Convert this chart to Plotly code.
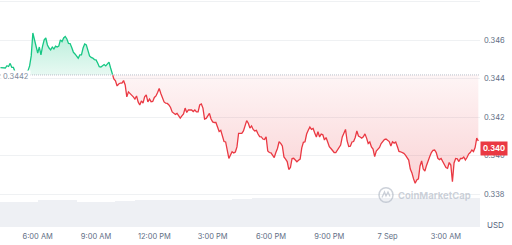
import numpy as np
import pandas as pd
import plotly.graph_objects as go

# ---------------- data ----------------
start_time = "2024-09-06 04:05"          # first 5-minute sample
window_start = "2024-09-06 05:35"        # start of the 24h window (fill starts here)
base_price = 0.3442                      # reference price (24h ago)
last_price_label = "0.340"

price = [
    0.34458, 0.34456, 0.34455, 0.34456, 0.34468, 0.34464, 0.34480, 0.34459, 0.34459, 0.34435,
    0.34430, 0.34430, 0.34425, 0.34430, 0.34425, 0.34430, 0.34435, 0.34441, 0.34467, 0.34519,
    0.34638, 0.34602, 0.34576, 0.34534, 0.34565, 0.34524, 0.34570, 0.34602, 0.34612, 0.34576,
    0.34560, 0.34550, 0.34565, 0.34555, 0.34570, 0.34565, 0.34570, 0.34602, 0.34593, 0.34612,
    0.34620, 0.34607, 0.34584, 0.34583, 0.34563, 0.34539, 0.34529, 0.34519, 0.34507, 0.34524,
    0.34524, 0.34560, 0.34581, 0.34576, 0.34550, 0.34519, 0.34511, 0.34508, 0.34500, 0.34498,
    0.34482, 0.34463, 0.34461, 0.34467, 0.34474, 0.34467, 0.34480, 0.34487, 0.34456, 0.34428,
    0.34399, 0.34389, 0.34363, 0.34373, 0.34378, 0.34378, 0.34391, 0.34368, 0.34306, 0.34332,
    0.34325, 0.34316, 0.34306, 0.34295, 0.34311, 0.34280, 0.34264, 0.34285, 0.34274, 0.34306,
    0.34316, 0.34280, 0.34295, 0.34281, 0.34282, 0.34303, 0.34311, 0.34329, 0.34350, 0.34324,
    0.34300, 0.34280, 0.34273, 0.34272, 0.34264, 0.34251, 0.34228, 0.34221, 0.34215, 0.34220,
    0.34207, 0.34196, 0.34207, 0.34217, 0.34248, 0.34225, 0.34238, 0.34238, 0.34238, 0.34230,
    0.34238, 0.34228, 0.34228, 0.34264, 0.34269, 0.34248, 0.34191, 0.34194, 0.34207, 0.34220,
    0.34191, 0.34176, 0.34173, 0.34173, 0.34150, 0.34126, 0.34132, 0.34108, 0.34074, 0.34072,
    0.34030, 0.33986, 0.34004, 0.34021, 0.34015, 0.34020, 0.34046, 0.34117, 0.34117, 0.34117,
    0.34129, 0.34160, 0.34183, 0.34169, 0.34144, 0.34155, 0.34137, 0.34129, 0.34132, 0.34113,
    0.34100, 0.34099, 0.34087, 0.34085, 0.34098, 0.34025, 0.34017, 0.34015, 0.34004, 0.33991,
    0.34017, 0.34038, 0.34073, 0.34065, 0.34051, 0.33994, 0.33983, 0.33970, 0.33929, 0.33939,
    0.33986, 0.33987, 0.33978, 0.33969, 0.33977, 0.33983, 0.34041, 0.34070, 0.34073, 0.34113,
    0.34133, 0.34149, 0.34137, 0.34142, 0.34118, 0.34098, 0.34125, 0.34098, 0.34113, 0.34109,
    0.34082, 0.34095, 0.34072, 0.34047, 0.34038, 0.34028, 0.34017, 0.34017, 0.34028, 0.34039,
    0.34056, 0.34098, 0.34118, 0.34137, 0.34077, 0.34048, 0.34050, 0.34072, 0.34074, 0.34095,
    0.34129, 0.34103, 0.34098, 0.34092, 0.34099, 0.34114, 0.34092, 0.34064, 0.34072, 0.34046,
    0.34035, 0.33996, 0.34025, 0.34035, 0.34043, 0.34064, 0.34073, 0.34084, 0.34087, 0.34082,
    0.34074, 0.34051, 0.34073, 0.34066, 0.34072, 0.34048, 0.34023, 0.34021, 0.34017, 0.34013,
    0.34004, 0.33989, 0.33978, 0.33931, 0.33911, 0.33880, 0.33857, 0.33874, 0.33880, 0.33947,
    0.33973, 0.33931, 0.33921, 0.33950, 0.33980, 0.33996, 0.34017, 0.34028, 0.34030, 0.34017,
    0.33987, 0.33980, 0.33986, 0.33968, 0.33950, 0.33939, 0.33935, 0.33965, 0.33952, 0.33865,
    0.33963, 0.33986, 0.33984, 0.33970, 0.33986, 0.33986, 0.33994, 0.33978, 0.33991, 0.34009,
    0.34017, 0.34030, 0.34022, 0.34043, 0.34092, 0.34077,
]

volume_start = "2024-09-06 04:00"
volume = [25, 25, 26.7, 26.7, 25, 25, 26, 26.7, 26.7, 26.7, 26.7, 26.7, 27.5,
          29, 29, 29, 29, 29, 29, 29, 29, 29, 29, 29, 29]

tick_times = ["2024-09-06 06:00", "2024-09-06 09:00", "2024-09-06 12:00", "2024-09-06 15:00",
              "2024-09-06 18:00", "2024-09-06 21:00", "2024-09-07 00:00", "2024-09-07 03:00"]
tick_labels = ["6:00 AM", "9:00 AM", "12:00 PM", "3:00 PM", "6:00 PM", "9:00 PM", "7 Sep", "3:00 AM"]

price_ticks = [0.338, 0.340, 0.342, 0.344, 0.346, 0.348]
price_tick_labels = ["0.338", "0.340", "0.342", "0.344", "0.346", ""]

# ---------------- build ----------------
GREEN = "#16c784"
RED = "#ea3943"
FONT = "Inter, sans-serif"

t = pd.date_range(start_time, periods=len(price), freq="5min")
p = np.array(price)
tn = t.asi8.astype(float)

i = int(np.where(p < base_price)[0][0])           # first sample below base
f = (p[i - 1] - base_price) / (p[i - 1] - p[i])
tc = pd.Timestamp(int(tn[i - 1] + f * (tn[i] - tn[i - 1])))

w = int(np.searchsorted(t, pd.Timestamp(window_start)))

g_x = list(t[:i]) + [tc]
g_y = list(p[:i]) + [base_price]
r_x = [tc] + list(t[i:])
r_y = [base_price] + list(p[i:])
gf_x = g_x[w:]
gf_y = g_y[w:]

vol_t = pd.date_range(volume_start, periods=len(volume), freq="h")

fig = go.Figure()

fig.add_trace(go.Bar(x=vol_t, y=volume, width=3600 * 1000, offset=0,
                     marker=dict(color="#eef0f4", line=dict(width=0)),
                     yaxis="y2", hoverinfo="skip"))

fig.add_trace(go.Scatter(x=gf_x, y=[base_price] * len(gf_x), mode="lines",
                         line=dict(width=0), hoverinfo="skip"))
fig.add_trace(go.Scatter(x=gf_x, y=gf_y, mode="lines", line=dict(width=0), fill="tonexty",
                         fillgradient=dict(type="vertical",
                                           colorscale=[[0, "rgba(22,199,132,0.10)"],
                                                       [1, "rgba(22,199,132,0.30)"]],
                                           start=base_price, stop=max(gf_y)),
                         hoverinfo="skip"))
fig.add_trace(go.Scatter(x=r_x, y=[base_price] * len(r_x), mode="lines",
                         line=dict(width=0), hoverinfo="skip"))
fig.add_trace(go.Scatter(x=r_x, y=r_y, mode="lines", line=dict(width=0), fill="tonexty",
                         fillgradient=dict(type="vertical",
                                           colorscale=[[0, "rgba(234,57,67,0.22)"],
                                                       [1, "rgba(234,57,67,0.05)"]],
                                           start=min(r_y), stop=base_price),
                         hoverinfo="skip"))
fig.add_trace(go.Scatter(x=g_x, y=g_y, mode="lines", line=dict(color=GREEN, width=1.3),
                         hoverinfo="skip"))
fig.add_trace(go.Scatter(x=r_x, y=r_y, mode="lines", line=dict(color=RED, width=1.3),
                         hoverinfo="skip"))

W, H = 480.0, 227.0  # plot area size in px (for decoration placement)

fig.update_layout(
    width=512, height=245,
    margin=dict(l=0, r=32, t=0, b=18),
    paper_bgcolor="white", plot_bgcolor="white",
    showlegend=False,
    font=dict(family=FONT),
    bargap=0,
    xaxis=dict(range=["2024-09-06 04:03:36", "2024-09-07 04:45:06"],
               tickvals=tick_times, ticktext=tick_labels,
               showgrid=False, zeroline=False, showline=False, ticks="",
               tickfont=dict(size=7.5, color="#616e85", family=FONT),
               ticklabelstandoff=3),
    yaxis=dict(domain=[0, 1], range=[0.336301, 0.348094], side="right",
               tickvals=price_ticks, ticktext=price_tick_labels,
               gridcolor="#eff1f3", gridwidth=1, zeroline=False, showline=False, ticks="",
               tickfont=dict(size=7.5, color="#616e85", family=FONT),
               ticklabelstandoff=3),
    yaxis2=dict(domain=[0, 0.135], range=[0, 30.6], visible=False, anchor="x"),
    shapes=[
        dict(type="line", xref="paper", yref="y", x0=0, x1=1, y0=base_price, y1=base_price,
             line=dict(color="#b9bfca", width=1, dash="1px,1px")),
        dict(type="circle", xref="paper", yref="paper",
             x0=379 / W, x1=393 / W, y0=1 - 202.3 / H, y1=1 - 187.7 / H,
             line=dict(color="rgba(170,178,192,0.6)", width=1.5)),
        dict(type="path", xref="paper", yref="paper",
             path=f"M {382/W} {1-197.5/H} L {384.5/W} {1-192/H} L {386/W} {1-196/H} "
                  f"L {388/W} {1-192/H} L {390/W} {1-196.5/H}",
             line=dict(color="rgba(170,178,192,0.6)", width=1.3)),
    ],
    annotations=[
        dict(text=f"{base_price:.4f}", xref="paper", yref="y", x=0, y=base_price,
             xanchor="left", yanchor="middle", xshift=1, yshift=-2, showarrow=False,
             bgcolor="white", borderpad=1,
             font=dict(size=7.5, color="#808a9d", family=FONT)),
        dict(text=f"<b>{last_price_label}</b>", xref="paper", yref="paper", x=1, y=1 - 148 / H,
             xanchor="left", yanchor="middle", showarrow=False,
             bgcolor=RED, borderpad=2,
             font=dict(size=7.5, color="white", family=FONT)),
        dict(text="USD", xref="paper", yref="paper", x=495 / W, y=1 - 224.5 / H,
             xanchor="center", yanchor="middle", showarrow=False,
             font=dict(size=8, color="#58667e", family=FONT)),
        dict(text="<b>CoinMarketCap</b>", xref="paper", yref="paper", x=434 / W, y=1 - 195 / H,
             xanchor="center", yanchor="middle", showarrow=False,
             font=dict(size=9.5, color="rgba(170,178,192,0.6)", family=FONT)),
    ],
)

fig.write_html("out.html")
